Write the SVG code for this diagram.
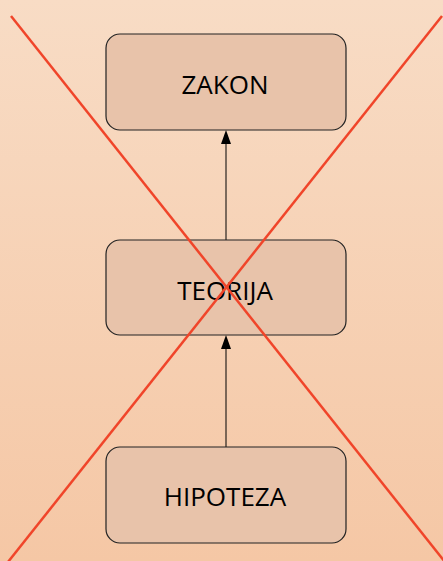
<svg xmlns="http://www.w3.org/2000/svg" width="443" height="561" viewBox="0 0 443 561">
<defs>
<linearGradient id="bg" x1="0" y1="0" x2="0" y2="1">
<stop offset="0" stop-color="#f8dcc5"/>
<stop offset="1" stop-color="#f5c7a5"/>
</linearGradient>
<style>
.box{fill:#e8c3aa;stroke:#222;stroke-width:1.2}
.lbl{font-family:"Open Sans","Noto Sans",sans-serif;font-size:26px;fill:#000;text-anchor:middle}
.conn{stroke:#000;stroke-width:1;fill:none}
.x{stroke:#f0452a;stroke-width:2.5}
</style>
</defs>
<rect width="443" height="561" fill="url(#bg)"/>
<g id="connectors">
<line class="conn" x1="226" y1="240" x2="226" y2="144"/>
<path d="M221,144 L226,130 L231,144 Z" fill="#000"/>
<line class="conn" x1="226" y1="447" x2="226" y2="349"/>
<path d="M221,349 L226,335 L231,349 Z" fill="#000"/>
</g>
<g id="zakon">
<rect class="box" x="106" y="34" width="240" height="96" rx="14"/>
<text class="lbl" x="225" y="94">ZAKON</text>
</g>
<g id="teorija">
<rect class="box" x="106" y="240" width="240" height="95" rx="14"/>
<text class="lbl" x="225" y="300">TEORIJA</text>
</g>
<g id="hipoteza">
<rect class="box" x="106" y="447" width="240" height="96" rx="14"/>
<text class="lbl" x="225" y="506">HIPOTEZA</text>
</g>
<g id="cross">
<line class="x" x1="11" y1="16" x2="445" y2="562"/>
<line class="x" x1="442" y1="16" x2="8" y2="562"/>
</g>
</svg>
